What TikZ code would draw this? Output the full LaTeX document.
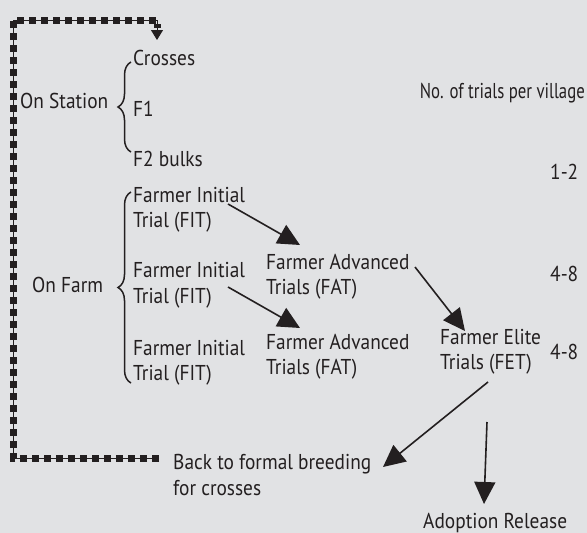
\documentclass[tikz,border=0pt]{standalone}
\usepackage{fontspec}
\setmainfont{PT Sans}[FakeStretch=0.9]
\newfontfamily\narrowtxt{PT Sans}[FakeStretch=0.78]
\usetikzlibrary{arrows.meta,decorations.pathreplacing}
\definecolor{bg}{HTML}{E1E2E4}
\definecolor{ink}{HTML}{231F20}
\begin{document}
\begin{tikzpicture}[x=1pt,y=-1pt,
  txt/.style={inner sep=0pt,anchor=west,align=left,text=ink,font=\fontsize{21.5}{25.5}\selectfont},
  arr/.style={draw=ink,line width=1.6pt,-{Triangle[length=22pt,width=21pt]}},
  brc/.style={draw=ink,line width=1.5pt,decorate,decoration={brace,amplitude=13pt}},
  loopthick/.style={draw=ink,line width=7pt,dash pattern=on 7pt off 5pt},
  loopthin/.style={draw=ink,line width=1pt}]
\fill[bg] (0,0) rectangle (587,533);
\useasboundingbox (0,0) rectangle (587,533);
% texts
\node[txt] (station) at (20,101) {On Station};
\node[txt] (crosses) at (133,58) {Crosses};
\node[txt] (f1) at (133,109) {F1};
\node[txt] (f2) at (133,159) {F2 bulks};
\node[txt,anchor=east,font=\fontsize{21.5}{25.5}\narrowtxt] (notr) at (585,93) {No. of trials per village};
\node[txt] (n12) at (550,172) {1-2};
\node[txt] (farm) at (32,285) {On Farm};
\node[txt] (fit1) at (133,210) {Farmer Initial\\Trial (FIT)};
\node[txt] (fit2) at (133,285.5) {Farmer Initial\\Trial (FIT)};
\node[txt] (fit3) at (133,363) {Farmer Initial\\Trial (FIT)};
\node[txt] (fat1) at (266,276.5) {Farmer Advanced\\Trials (FAT)};
\node[txt] (fat2) at (266,356.5) {Farmer Advanced\\Trials (FAT)};
\node[txt] (fet) at (440,352) {Farmer Elite\\Trials (FET)};
\node[txt] (n48a) at (550,274) {4-8};
\node[txt] (n48b) at (550,352) {4-8};
\node[txt] (back) at (173,475) {Back to formal breeding\\for crosses};
\node[txt] (adopt) at (423,523) {Adoption Release};
% braces
\draw[brc] (131,152) -- (131,62);
\draw[brc] (131,383) -- (131,192);
% arrow coordinates
\coordinate (a1s) at (228,204); \coordinate (a1e) at (300,245);
\coordinate (a2s) at (228,287); \coordinate (a2e) at (300,328);
\coordinate (a3s) at (415,267); \coordinate (a3e) at (465,331);
\coordinate (a4s) at (488,382); \coordinate (a4e) at (383,467);
\coordinate (a5s) at (487,422); \coordinate (a5e) at (484,504);
\draw[arr] (a1s) -- (a1e);
\draw[arr] (a2s) -- (a2e);
\draw[arr] (a3s) -- (a3e);
\draw[arr] (a4s) -- (a4e);
\draw[arr] (a5s) -- (a5e);
% feedback loop
\coordinate (l0) at (159,458);
\coordinate (l1) at (13,458);
\coordinate (l2) at (13,20);
\coordinate (l3) at (157,20);
\coordinate (l4) at (157,28);
\coordinate (l5) at (157,40);
\draw[loopthin] (l0) -- (l1) -- (l2) -- (l3) -- (l4);
\draw[loopthick] (l0) -- (l1) -- (l2) -- (l3) -- (l4);
\draw[draw=ink,line width=1pt,-{Triangle[length=10pt,width=12pt]}] (l4) -- (l5);
\end{tikzpicture}
\end{document}
